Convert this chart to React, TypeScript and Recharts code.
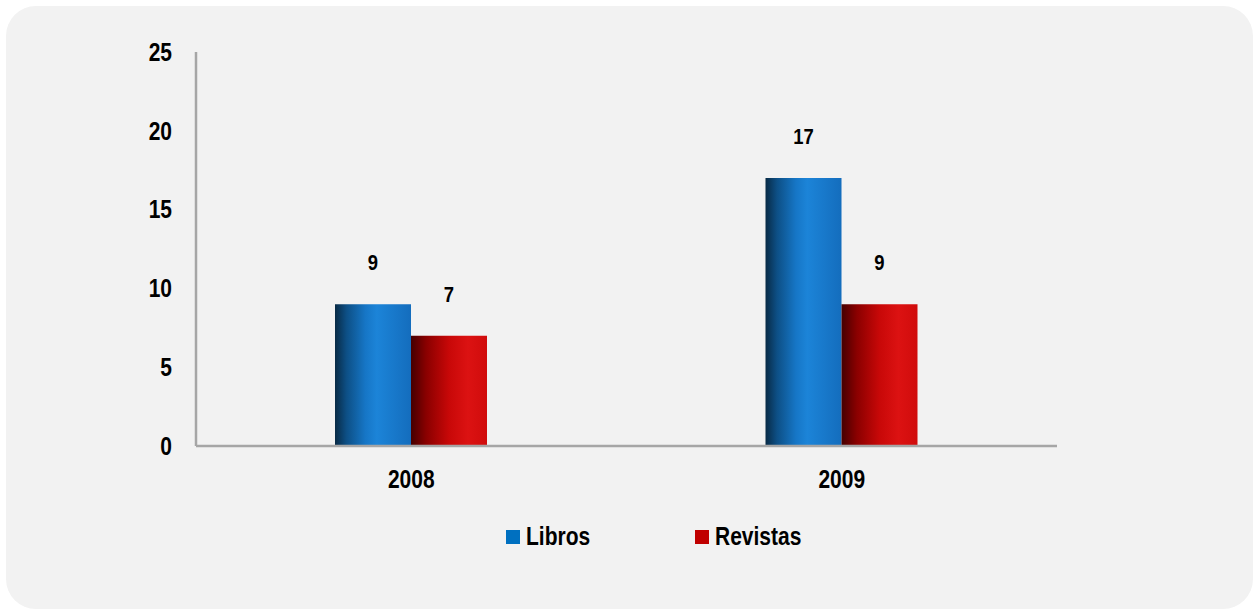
import React from 'react';
import { BarChart, Bar, XAxis, YAxis, Legend, LabelList } from 'recharts';

const categories = ['2008', '2009'];
const libros = [9, 17];
const revistas = [7, 9];
const yTicks = [0, 5, 10, 15, 20, 25];
const seriesNames = ['Libros', 'Revistas'];

const data = categories.map((c, i) => ({ year: c, libros: libros[i], revistas: revistas[i] }));

const FONT = "'Liberation Sans', Arial, sans-serif";
const SX = 0.84;

const XTick = (props: any) => {
  const { x, y, payload } = props;
  return (
    <g transform={`translate(${x},${y})`}>
      <text transform={`scale(${SX},1)`} textAnchor="middle" dy="0.71em" fill="#000" fontSize={25} fontWeight="bold" fontFamily={FONT}>
        {payload.value}
      </text>
    </g>
  );
};

const YTick = (props: any) => {
  const { x, y, payload } = props;
  return (
    <g transform={`translate(${x},${y})`}>
      <text transform={`scale(${SX},1)`} textAnchor="end" dy="0.355em" fill="#000" fontSize={25} fontWeight="bold" fontFamily={FONT}>
        {payload.value}
      </text>
    </g>
  );
};

const ValueLabel = (props: any) => {
  const { x, y, width, value } = props;
  const cx = Number(x) + Number(width) / 2;
  const cy = Number(y) - 34;
  return (
    <g transform={`translate(${cx},${cy})`}>
      <text transform={`scale(${SX},1)`} textAnchor="middle" fill="#000" fontSize={22} fontWeight="bold" fontFamily={FONT}>
        {value}
      </text>
    </g>
  );
};

const LegendContent = () => (
  <div style={{ position: 'relative', width: 1253, height: 40, fontFamily: FONT, fontWeight: 'bold', fontSize: 25, color: '#000' }}>
    <div style={{ position: 'absolute', left: 506, top: 13, width: 14, height: 14, background: '#0070c0' }} />
    <div style={{ position: 'absolute', left: 526, top: 4, lineHeight: '30px', transform: `scaleX(${SX})`, transformOrigin: 'left center' }}>{seriesNames[0]}</div>
    <div style={{ position: 'absolute', left: 695, top: 13, width: 14, height: 14, background: '#c00000' }} />
    <div style={{ position: 'absolute', left: 715, top: 4, lineHeight: '30px', transform: `scaleX(${SX})`, transformOrigin: 'left center' }}>{seriesNames[1]}</div>
  </div>
);

export default function App() {
  return (
    <div style={{ position: 'fixed', left: 0, top: 0, width: 1253, height: 609, background: '#ffffff' }}>
      <div style={{ position: 'absolute', left: 6, top: 6, width: 1247, height: 603, background: '#f2f2f2', borderRadius: 30 }} />
      <div style={{ position: 'absolute', left: 0, top: 0 }}>
        <BarChart
          width={1253}
          height={609}
          data={data}
          margin={{ top: 52, right: 196, left: 136, bottom: 52 }}
          barGap={0}
          barCategoryGap={0}
        >
          <defs>
            <linearGradient id="gBlue" x1="0" y1="0" x2="1" y2="0">
              <stop offset="0%" stopColor="#082a45" />
              <stop offset="15%" stopColor="#0d4f85" />
              <stop offset="40%" stopColor="#1676c6" />
              <stop offset="55%" stopColor="#1c84d8" />
              <stop offset="100%" stopColor="#146dbd" />
            </linearGradient>
            <linearGradient id="gRed" x1="0" y1="0" x2="1" y2="0">
              <stop offset="0%" stopColor="#450000" />
              <stop offset="20%" stopColor="#8a0000" />
              <stop offset="50%" stopColor="#c80808" />
              <stop offset="75%" stopColor="#dc1212" />
              <stop offset="100%" stopColor="#d00c0c" />
            </linearGradient>
          </defs>
          <XAxis
            dataKey="year"
            height={71}
            tickLine={false}
            tickSize={0}
            tickMargin={24}
            axisLine={{ stroke: '#a6a6a6', strokeWidth: 2.5 }}
            tick={<XTick />}
          />
          <YAxis
            width={60}
            domain={[0, 25]}
            ticks={yTicks}
            interval={0}
            tickLine={false}
            tickSize={0}
            tickMargin={24}
            axisLine={{ stroke: '#a6a6a6', strokeWidth: 2.5 }}
            tick={<YTick />}
          />
          <Legend verticalAlign="bottom" content={<LegendContent />} wrapperStyle={{ left: 0, width: 1253 }} />
          <Bar dataKey="libros" name={seriesNames[0]} fill="url(#gBlue)" barSize={76} isAnimationActive={false}>
            <LabelList dataKey="libros" content={<ValueLabel />} />
          </Bar>
          <Bar dataKey="revistas" name={seriesNames[1]} fill="url(#gRed)" barSize={76} isAnimationActive={false}>
            <LabelList dataKey="revistas" content={<ValueLabel />} />
          </Bar>
        </BarChart>
      </div>
    </div>
  );
}
